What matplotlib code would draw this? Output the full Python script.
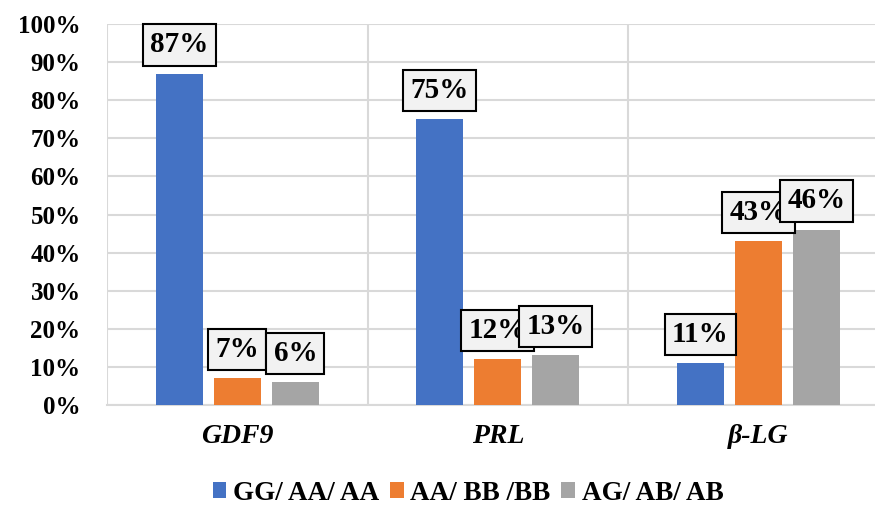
import numpy as np
import matplotlib.pyplot as plt
from matplotlib.ticker import PercentFormatter

# datos
genes = ['GDF9', 'PRL', 'β-LG']
series = ['GG/ AA/ AA', 'AA/ BB /BB', 'AG/ AB/ AB']
gg_aa = [87, 75, 11]
aa_bb = [7, 12, 43]
ag_ab = [6, 13, 46]
colores = ['#4472C4', '#ED7D31', '#A5A5A5']

plt.rcParams['font.family'] = ['Liberation Serif', 'DejaVu Serif']
plt.rcParams['font.weight'] = 'bold'

fig = plt.figure(figsize=(8.75, 5.13), dpi=100)
ax = fig.add_axes([107 / 875, 1 - 405 / 513, 1 - 107 / 875, (405 - 24) / 513])

x = np.arange(len(genes))
ancho = 0.18
paso = 0.223
for i, (vals, nombre) in enumerate(zip([gg_aa, aa_bb, ag_ab], series)):
    barras = ax.bar(x + (i - 1) * paso, vals, ancho, color=colores[i], label=nombre, zorder=3)
    for b, v in zip(barras, vals):
        ax.annotate(f'{v}%', (b.get_x() + b.get_width() / 2, v),
                    xytext=(0, 11), textcoords='offset points',
                    ha='center', va='bottom', fontsize=21, fontweight='bold',
                    bbox=dict(boxstyle='square,pad=0.25', fc='#F2F2F2', ec='black', lw=1.5),
                    zorder=5)

ax.set_ylim(0, 100)
ax.set_xlim(-0.5, 2.448)
ax.set_yticks(np.arange(0, 101, 10))
ax.yaxis.set_major_formatter(PercentFormatter(decimals=0))
ax.set_xticks(x)
ax.set_xticklabels(genes, fontstyle='italic', fontweight='bold', fontsize=20)
ax.tick_params(axis='y', length=0, pad=19, labelsize=18)
ax.tick_params(axis='x', length=0, pad=14)

# rejilla horizontal y separadores verticales entre categorias
ax.yaxis.grid(True, color='#D9D9D9', lw=1.5, zorder=0)
for xv in [-0.5, 0.5, 1.5, 2.5]:
    ax.axvline(xv, color='#D9D9D9', lw=1.5, zorder=0)
for s in ['top', 'right', 'left']:
    ax.spines[s].set_visible(False)
ax.spines['bottom'].set_color('#D9D9D9')
ax.spines['bottom'].set_linewidth(1.5)

fig.legend(loc='center', bbox_to_anchor=(468 / 875, 1 - 493 / 513), ncol=3,
           frameon=False, fontsize=19.5, handlelength=0.5, handleheight=0.5,
           handletextpad=0.25, columnspacing=0.4)

fig.savefig('out.png', dpi=100)
